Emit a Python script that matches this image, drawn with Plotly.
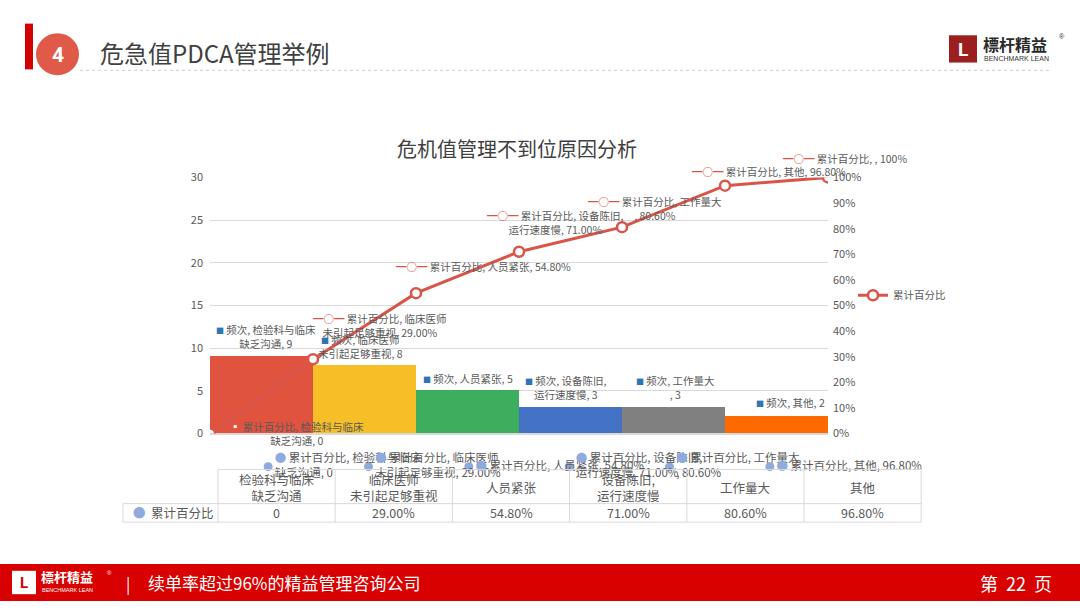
import plotly.graph_objects as go

# data
categories = ["检验科与临床<br>缺乏沟通", "临床医师<br>未引起足够重视", "人员紧张",
              "设备陈旧,<br>运行速度慢", "工作量大<br>", "其他"]
frequency = [9, 8, 5, 3, 3, 2]
cum_categories = categories + [""]
cum_percent = [0, 29.0, 54.8, 71.0, 80.6, 96.8, 100]
cum_text = ["0", "29.00%", "54.80%", "71.00%", "80.60%", "96.80%", "100%"]

bar_colors = ["#E0533F", "#F6BE27", "#3DAE5E", "#4472C4", "#808080", "#FF6A00"]
line_color = "#D9554A"
dot_color = "#8FAADC"
grid_color = "#D9D9D9"
txt_color = "#595959"
FONT = "Noto Sans CJK SC"

W, H = 1080, 608


def px(x):
    return x / W


def py(y):
    return 1 - y / H


def note(x, y, text, size, color=txt_color, family=FONT, xanchor="center"):
    # paper-positioned text, anchors set explicitly
    return dict(x=px(x), y=py(y), xref="paper", yref="paper", text=text,
                showarrow=False, xanchor=xanchor, yanchor="middle",
                font=dict(family=family, size=size, color=color))


fig = go.Figure()

# bars sit edge to edge, line points on the bar edges
fig.add_trace(go.Bar(
    x=[i + 0.5 for i in range(len(frequency))], y=frequency, width=1,
    marker=dict(color=bar_colors, line=dict(width=0)),
    showlegend=False, hoverinfo="skip",
))
fig.add_trace(go.Scatter(
    x=list(range(len(cum_percent))), y=[v / 100 for v in cum_percent],
    yaxis="y2", mode="lines+markers", name="累计百分比",
    line=dict(color=line_color, width=3),
    marker=dict(symbol="circle", size=10, color="white",
                line=dict(color=line_color, width=2.5)),
))

# stray data-label series drawn under the plot (as in the source slide)
fig.add_trace(go.Scatter(
    x=list(range(len(categories))), y=[0] * len(categories),
    xaxis="x3", yaxis="y3", mode="markers+text",
    marker=dict(color=dot_color, size=9),
    text=[f"<span style='color:{dot_color}'>●</span> 累计百分比, {c}, {t}"
          for c, t in zip(categories, cum_text)],
    textposition="middle right",
    textfont=dict(family=FONT, size=11.5, color=txt_color),
    showlegend=False, cliponaxis=False,
))

annotations = []

# bar data labels
bar_offsets = [(4, 20), (-4, 19), (0, 12), (-5, 20), (2, 20), (14, 14)]
for i, (c, v) in enumerate(zip(categories, frequency)):
    dx, dy = bar_offsets[i]
    annotations.append(dict(
        x=i + 0.5, y=v, xref="x", yref="y",
        text=f"<span style='color:#2E75B6;font-size:8px'>■</span> 频次, {c}, {v}",
        showarrow=False, xshift=dx, yshift=dy,
        xanchor="center", yanchor="middle",
        font=dict(family=FONT, size=10.5, color=txt_color),
    ))

# cumulative line labels
line_offsets = [(87, 0), (67, 34), (67, 27), (36, 29), (33, 19), (44, 14), (17, 19)]
for i, (c, v, t) in enumerate(zip(cum_categories, cum_percent, cum_text)):
    dx, dy = line_offsets[i]
    key = ("<span style='color:white'>▪</span>" if i == 0
           else f"<span style='color:{line_color}'><b>━○━</b></span>")
    annotations.append(dict(
        x=i, y=v / 100, xref="x", yref="y2",
        text=f"{key} 累计百分比, {c}, {t}",
        showarrow=False, xshift=dx, yshift=dy,
        xanchor="center", yanchor="middle",
        font=dict(family=FONT, size=10.5, color=txt_color),
    ))

# chart title
annotations.append(note(517, 143, "危机值管理不到位原因分析", 20, "#404040"))

shapes = []


def hline(x0, x1, y, color=grid_color, dash="solid"):
    return dict(type="line", xref="paper", yref="paper",
                x0=px(x0), x1=px(x1), y0=py(y), y1=py(y),
                line=dict(color=color, width=1, dash=dash))


def vline(x, y0, y1, color=grid_color):
    return dict(type="line", xref="paper", yref="paper",
                x0=px(x), x1=px(x), y0=py(y0), y1=py(y1),
                line=dict(color=color, width=1))


def box(x0, x1, y0, y1, color, kind="rect", **kw):
    return dict(type=kind, xref="paper", yref="paper",
                x0=px(x0), x1=px(x1), y0=py(y1), y1=py(y0),
                fillcolor=color, **kw)


# data table under the chart
tx0, tcol = 218, 117.2
ty0, ty1, ty2 = 473, 508, 527
tx1 = tx0 + tcol * len(categories)
for i in range(len(categories) + 1):
    shapes.append(vline(tx0 + tcol * i, ty0, ty2))
for yy in (ty0, ty1, ty2):
    shapes.append(hline(tx0, tx1, yy))
for yy in (ty1, ty2):
    shapes.append(hline(123, tx0, yy))
shapes.append(vline(123, ty1, ty2))

for i, (c, t) in enumerate(zip(categories, cum_text)):
    cx = tx0 + tcol * (i + 0.5)
    annotations.append(note(cx, (ty0 + ty1) / 2 + 1, c, 12.5))
    annotations.append(note(cx, (ty1 + ty2) / 2, t, 12.5))
annotations.append(note(131, (ty1 + ty2) / 2,
                        f"<span style='color:{dot_color}'>●</span>  累计百分比",
                        12.5, xanchor="left"))

# slide header
shapes.append(box(25, 33, 15, 62, "#D40000", line=dict(width=0)))
shapes.append(box(35, 80, 24, 69, "#E05A4A", kind="circle",
                  line=dict(color="white", width=2)))
annotations.append(note(58, 47, "<b>4</b>", 21, "white", "Roboto"))
annotations.append(note(98, 45, "危急值PDCA管理举例", 24, "#404040", xanchor="left"))
shapes.append(hline(80, 1050, 63, "#CFCFCF", "dot"))

# header logo
shapes.append(box(949, 977, 27, 55, "#9B1F1F", line=dict(width=0)))
annotations.append(note(963, 42, "<b>L</b>", 19, "white", "Roboto"))
annotations.append(note(981, 36, "<b>標杆精益</b>", 16, "#2A2A2A", xanchor="left"))
annotations.append(note(982, 51, "BENCHMARK LEAN", 7, "#333333",
                        "Liberation Sans", xanchor="left"))
annotations.append(note(1062, 28, "®", 7, "#333333", "Liberation Sans"))

# footer band
shapes.append(dict(type="rect", xref="paper", yref="paper",
                   x0=0, x1=1, y0=0, y1=py(570),
                   fillcolor="#D90000", line=dict(width=0), layer="below"))
shapes.append(box(12, 36, 577, 601, "white", line=dict(width=0)))
annotations.append(note(24, 589, "<b>L</b>", 15, "#D90000", "Roboto"))
annotations.append(note(39, 583, "<b>標杆精益</b>", 13, "white", xanchor="left"))
annotations.append(note(40, 597, "BENCHMARK LEAN", 5.5, "white",
                        "Liberation Sans", xanchor="left"))
annotations.append(note(109, 579, "®", 6, "white", "Liberation Sans"))
annotations.append(note(128, 589, "|", 16, "white"))
annotations.append(note(146, 589, "续单率超过96%的精益管理咨询公司", 17, "white",
                        xanchor="left"))
annotations.append(note(1054, 590, "第  22  页", 18, "white", xanchor="right"))

fig.update_layout(
    width=W, height=H,
    margin=dict(l=0, r=0, t=0, b=0),
    paper_bgcolor="white", plot_bgcolor="white",
    bargap=0,
    font=dict(family=FONT, size=11, color=txt_color),
    xaxis=dict(domain=[px(210), px(828)], range=[0, 6],
               showticklabels=False, showgrid=False, zeroline=False,
               showline=False, fixedrange=True),
    yaxis=dict(domain=[py(436), py(173)], range=[0, 30], dtick=5,
               gridcolor=grid_color, zeroline=True, zerolinecolor=grid_color,
               tickfont=dict(size=11, color=txt_color), ticks="",
               ticklabelstandoff=6),
    yaxis2=dict(overlaying="y", side="right", range=[0, 1], dtick=0.1,
                tickformat=".0%", showgrid=False, zeroline=False,
                tickfont=dict(size=11, color=txt_color), ticks="",
                ticklabelstandoff=4),
    xaxis3=dict(domain=[px(218), px(820)], range=[-0.5, 5.5], anchor="y3",
                visible=False),
    yaxis3=dict(domain=[py(490), py(450)], range=[-1, 1], anchor="x3",
                visible=False),
    legend=dict(x=px(853), y=py(294), xanchor="left", yanchor="middle",
                bgcolor="rgba(0,0,0,0)",
                font=dict(family=FONT, size=10.5, color=txt_color)),
    shapes=shapes,
    annotations=annotations,
)

# drop the default page margin so the figure fills the window exactly
fig.write_html("out.html", config={"displayModeBar": False},
               post_script="document.body.style.margin = '0';")
